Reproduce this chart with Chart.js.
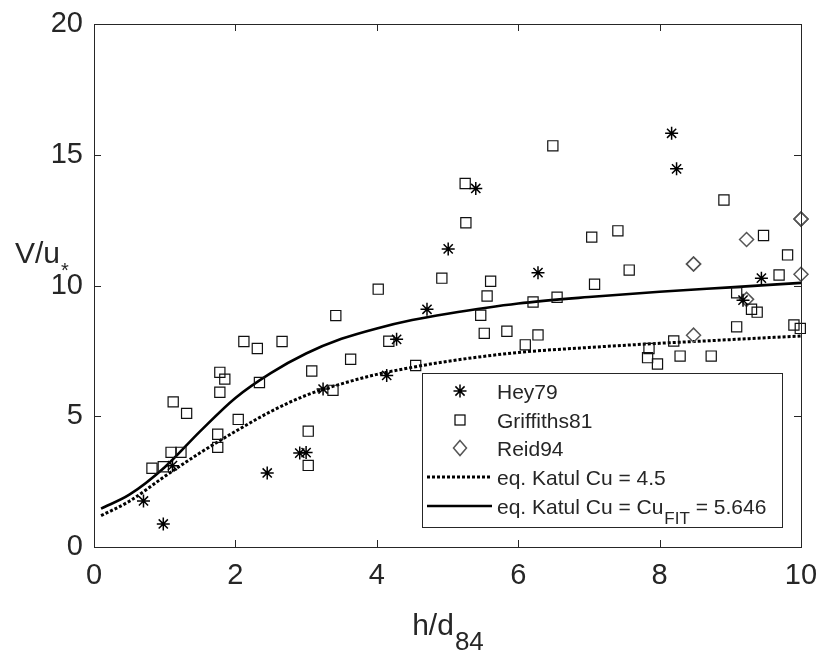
<!DOCTYPE html>
<html>
<head>
<meta charset="utf-8">
<script src="https://cdn.jsdelivr.net/npm/chart.js@4.4.0/dist/chart.umd.min.js"></script>
<style>
  html, body { margin: 0; padding: 0; background: #fff; }
  #wrap { width: 820px; height: 651px; }
</style>
</head>
<body>
<div id="wrap"><canvas id="chart" width="820" height="651"></canvas></div>
<script>
// ---- values ----
// Hey79 (asterisks)
const heyX = [0.70, 0.98, 1.11, 2.45, 2.91, 3.00, 3.24, 4.14, 4.28, 4.71, 5.01, 5.40, 6.28, 8.17, 8.24, 9.18, 9.44];
const heyY = [1.76, 0.88, 3.11, 2.83, 3.59, 3.61, 6.04, 6.56, 7.94, 9.09, 11.40, 13.71, 10.49, 15.82, 14.46, 9.44, 10.28];

// Griffiths81 (squares)
const griX = [0.82, 0.98, 1.09, 1.23, 1.12, 1.31, 1.78, 1.85, 1.78, 1.75, 1.75, 2.04, 2.12, 2.31, 2.66, 2.34,
  3.08, 3.03, 3.03, 3.38, 3.42, 3.63, 4.02, 4.17, 4.55, 4.92, 5.25, 5.26, 5.47, 5.52, 5.56, 5.61, 5.84, 6.10,
  6.21, 6.28, 6.49, 6.55, 7.04, 7.08, 7.41, 7.57, 7.83, 7.85, 7.97, 8.20, 8.29, 8.73, 8.91, 9.09, 9.09, 9.30,
  9.38, 9.47, 9.69, 9.81, 9.90, 9.99];
const griY = [3.01, 3.07, 3.62, 3.62, 5.55, 5.11, 6.68, 6.42, 5.92, 4.31, 3.81, 4.88, 7.86, 7.59, 7.86, 6.29,
  6.73, 4.43, 3.12, 5.99, 8.85, 7.18, 9.86, 7.87, 6.94, 10.28, 13.90, 12.40, 8.86, 8.17, 9.60, 10.16, 8.25, 7.73,
  9.37, 8.11, 15.34, 9.55, 11.85, 10.05, 12.09, 10.59, 7.24, 7.59, 7.00, 7.88, 7.30, 7.30, 13.27, 9.72, 8.42, 9.09,
  8.98, 11.91, 10.40, 11.17, 8.49, 8.36];

// Reid94 (diamonds)
const reidX = [8.48, 8.48, 9.23, 10.0, 10.0, 10.0, 9.23, 8.48];
const reidY = [10.82, 10.82, 11.76, 12.54, 12.54, 10.43, 9.47, 8.10];

// eq. Katul Cu = 4.5 (dotted)
const katulX = [0.1, 0.5, 1.0, 1.5, 2.0, 2.5, 3.0, 3.5, 4.0, 4.5, 5.0, 6.0, 7.0, 8.0, 9.0, 10.0];
const katulY = [1.20, 1.75, 2.70, 3.60, 4.42, 5.18, 5.80, 6.24, 6.60, 6.87, 7.10, 7.44, 7.63, 7.79, 7.93, 8.07];

// eq. Katul Cu = Cu_FIT = 5.646 (solid)
const fitX = [0.1, 0.5, 1.0, 1.5, 2.0, 2.5, 3.0, 3.5, 4.0, 4.5, 5.0, 6.0, 7.0, 8.0, 9.0, 10.0];
const fitY = [1.47, 2.00, 3.05, 4.42, 5.70, 6.65, 7.40, 7.96, 8.36, 8.68, 8.92, 9.31, 9.56, 9.76, 9.93, 10.10];

const xTicks = [0, 2, 4, 6, 8, 10];
const yTicks = [0, 5, 10, 15, 20];
const legendLabels = ['Hey79', 'Griffiths81', 'Reid94', 'eq. Katul Cu = 4.5', 'eq. Katul Cu = Cu'];

const FONT = "'Liberation Sans', Arial, Helvetica, sans-serif";
const INK = '#262626';

const pts = (xs, ys) => xs.map((x, i) => ({ x, y: ys[i] }));

// MATLAB-style frame, inward ticks, axis titles and legend
const matlabFrame = {
  id: 'matlabFrame',
  afterDatasetsDraw(chart) {
    const { ctx, chartArea: a, scales: { x, y } } = chart;
    ctx.save();
    ctx.strokeStyle = INK;
    ctx.lineWidth = 1;
    ctx.strokeRect(a.left + 0.5, a.top + 0.5, a.right - a.left, a.bottom - a.top);

    const tl = 7;
    ctx.beginPath();
    xTicks.forEach(v => {
      const px = Math.round(x.getPixelForValue(v)) + 0.5;
      ctx.moveTo(px, a.bottom); ctx.lineTo(px, a.bottom - tl);
      ctx.moveTo(px, a.top); ctx.lineTo(px, a.top + tl);
    });
    yTicks.forEach(v => {
      const py = Math.round(y.getPixelForValue(v)) + 0.5;
      ctx.moveTo(a.left, py); ctx.lineTo(a.left + tl, py);
      ctx.moveTo(a.right, py); ctx.lineTo(a.right - tl, py);
    });
    ctx.stroke();

    // axis titles
    ctx.fillStyle = INK;
    ctx.textBaseline = 'alphabetic';
    ctx.font = '30px ' + FONT;
    const main = 'h/d', sub = '84';
    const wMain = ctx.measureText(main).width;
    ctx.font = '26px ' + FONT;
    const wSub = ctx.measureText(sub).width;
    const cx = (a.left + a.right) / 2;
    const sx = cx - (wMain + wSub) / 2;
    ctx.font = '30px ' + FONT;
    ctx.textAlign = 'left';
    ctx.fillText(main, sx, 635);
    ctx.font = '26px ' + FONT;
    ctx.fillText(sub, sx + wMain + 1, 650);

    ctx.font = '30px ' + FONT;
    ctx.textAlign = 'right';
    ctx.fillText('V/u', 60, 263);
    ctx.font = '20px ' + FONT;
    ctx.textAlign = 'left';
    ctx.fillText('*', 61, 277);

    // legend
    const L = 422, T = 373, W = 361, H = 155;
    ctx.fillStyle = '#fff';
    ctx.fillRect(L, T, W, H);
    ctx.strokeStyle = INK;
    ctx.lineWidth = 1;
    ctx.strokeRect(L + 0.5, T + 0.5, W - 1, H - 1);

    const mx = 460;
    const rows = [391, 420, 448, 477, 506];

    // asterisk
    ctx.strokeStyle = '#000';
    ctx.lineWidth = 1.5;
    ctx.beginPath();
    for (let k = 0; k < 4; k++) {
      const ang = k * Math.PI / 4;
      ctx.moveTo(mx - 6.5 * Math.cos(ang), rows[0] - 6.5 * Math.sin(ang));
      ctx.lineTo(mx + 6.5 * Math.cos(ang), rows[0] + 6.5 * Math.sin(ang));
    }
    ctx.stroke();
    // square
    ctx.lineWidth = 1.2;
    ctx.strokeRect(mx - 5, rows[1] - 5, 10, 10);
    // diamond
    ctx.strokeStyle = '#555';
    ctx.lineWidth = 1.5;
    ctx.beginPath();
    ctx.moveTo(mx, rows[2] - 7.5); ctx.lineTo(mx + 6.5, rows[2]);
    ctx.lineTo(mx, rows[2] + 7.5); ctx.lineTo(mx - 6.5, rows[2]);
    ctx.closePath();
    ctx.stroke();
    // dotted line
    ctx.strokeStyle = '#000';
    ctx.lineWidth = 3;
    ctx.setLineDash([3, 2]);
    ctx.beginPath(); ctx.moveTo(427, rows[3]); ctx.lineTo(491, rows[3]); ctx.stroke();
    ctx.setLineDash([]);
    ctx.lineWidth = 2.6;
    ctx.beginPath(); ctx.moveTo(427, rows[4]); ctx.lineTo(492, rows[4]); ctx.stroke();

    ctx.fillStyle = INK;
    ctx.textAlign = 'left';
    ctx.font = '21px ' + FONT;
    const tx = 497;
    legendLabels.forEach((lab, i) => ctx.fillText(lab, tx, rows[i] + 8));
    let ex = tx + ctx.measureText(legendLabels[4]).width + 1;
    ctx.font = '17px ' + FONT;
    ctx.fillText('FIT', ex, rows[4] + 18);
    ex += ctx.measureText('FIT').width;
    ctx.font = '21px ' + FONT;
    ctx.fillText(' = 5.646', ex, rows[4] + 8);

    ctx.restore();
  }
};

new Chart(document.getElementById('chart'), {
  type: 'scatter',
  data: {
    datasets: [
      {
        label: legendLabels[0], data: pts(heyX, heyY),
        pointStyle: 'star', pointRadius: 6.5, borderColor: '#000', borderWidth: 1.5,
        backgroundColor: 'transparent', clip: false
      },
      {
        label: legendLabels[1], data: pts(griX, griY),
        pointStyle: 'rect', pointRadius: 7.2, borderColor: '#111', borderWidth: 1.2,
        backgroundColor: 'transparent', clip: false
      },
      {
        label: legendLabels[2], data: pts(reidX, reidY),
        pointStyle: 'rectRot', pointRadius: 7, borderColor: '#555', borderWidth: 1.5,
        backgroundColor: 'transparent', clip: false
      },
      {
        type: 'line', label: legendLabels[3], data: pts(katulX, katulY),
        showLine: true, pointRadius: 0, borderColor: '#000', borderWidth: 3,
        borderDash: [3, 2], cubicInterpolationMode: 'monotone', fill: false
      },
      {
        type: 'line', label: legendLabels[4], data: pts(fitX, fitY),
        showLine: true, pointRadius: 0, borderColor: '#000', borderWidth: 2.6,
        cubicInterpolationMode: 'monotone', fill: false
      }
    ]
  },
  options: {
    responsive: false,
    animation: false,
    devicePixelRatio: 1,
    layout: { padding: { top: 24, right: 19, left: 0, bottom: 0 } },
    plugins: { legend: { display: false }, tooltip: { enabled: false } },
    scales: {
      x: {
        type: 'linear', min: 0, max: 10,
        afterBuildTicks: s => { s.ticks = xTicks.map(v => ({ value: v })); },
        ticks: { font: { family: FONT, size: 29 }, color: INK, padding: 12, maxRotation: 0 },
        grid: { display: false, drawTicks: false },
        border: { display: false },
        afterFit: s => { s.height = 104; s.paddingLeft = 0; s.paddingRight = 0; }
      },
      y: {
        type: 'linear', min: 0, max: 20,
        afterBuildTicks: s => { s.ticks = yTicks.map(v => ({ value: v })); },
        ticks: { font: { family: FONT, size: 29 }, color: INK, padding: 11 },
        grid: { display: false, drawTicks: false },
        border: { display: false },
        afterFit: s => { s.width = 94; s.paddingTop = 0; s.paddingBottom = 0; }
      }
    }
  },
  plugins: [matlabFrame]
});
</script>
</body>
</html>
